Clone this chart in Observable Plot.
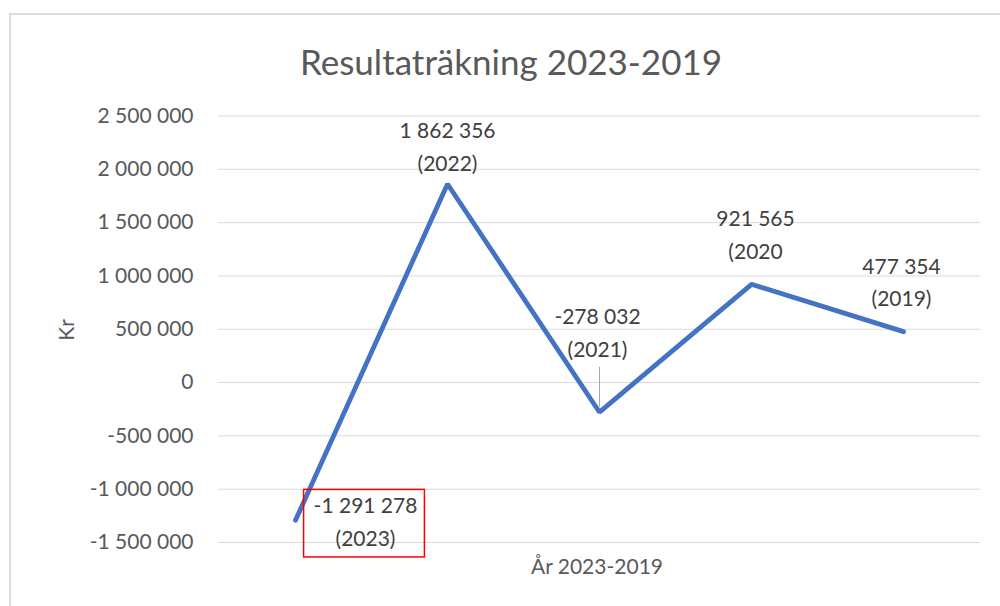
<!DOCTYPE html>
<html>
<head>
<meta charset="utf-8">
<script src="https://cdn.jsdelivr.net/npm/d3@7"></script>
<script src="https://cdn.jsdelivr.net/npm/@observablehq/plot@0.6"></script>
<style>
  html, body { margin: 0; padding: 0; background: #fff; }
  #wrap { position: relative; width: 1000px; height: 606px; overflow: hidden; font-family: Lato, "Open Sans", sans-serif; }
  #frame { position: absolute; left: 9px; top: 13px; right: -10px; bottom: -10px; border-left: 2px solid #dcdcdc; border-top: 2px solid #dcdcdc; }
  .ov { position: absolute; transform: translate(-50%, -50%); white-space: nowrap; line-height: 1; color: #595959; }
  #title { left: 511px; top: 61px; font-size: 35px; }
  #ylab { left: 65px; top: 330px; font-size: 21px; transform: translate(-50%, -50%) rotate(-90deg); }
  #xlab { left: 597px; top: 565px; font-size: 21px; }
  svg { position: absolute; left: 0; top: 0; }
</style>
</head>
<body>
<div id="wrap">
  <div id="frame"></div>
  <div id="title" class="ov">Resultaträkning 2023-2019</div>
  <div id="ylab" class="ov">Kr</div>
  <div id="xlab" class="ov">År 2023-2019</div>
</div>
<script>
// ---- data ----
const years = ["2023", "2022", "2021", "2020", "2019"];
const results = [-1291278, 1862356, -278032, 921565, 477354];
const yearLabels = ["(2023)", "(2022)", "(2021)", "(2020", "(2019)"];
const yTicks = [-1500000, -1000000, -500000, 0, 500000, 1000000, 1500000, 2000000, 2500000];

const data = years.map((year, i) => ({year, value: results[i], label: yearLabels[i]}));

// ---- layout (label placement relative to each point, in pixels) ----
const labelOffsets = {
  "2023": {dx: 70, dy: -1},
  "2022": {dx: 0, dy: -40},
  "2021": {dx: -2, dy: -82},
  "2020": {dx: 4, dy: -52},
  "2019": {dx: -2, dy: -52}
};

const fmt = v => (v < 0 ? "-" : "") + d3.format(",")(Math.abs(v)).replace(/,/g, " ");

const labelMarks = years.map(y => Plot.text(data.filter(d => d.year === y), {
  x: "year", y: "value",
  text: d => fmt(d.value) + "\n" + d.label,
  dx: labelOffsets[y].dx, dy: labelOffsets[y].dy,
  lineHeight: 1.55,
  fontSize: 21,
  fill: "#404040"
}));

const chart = Plot.plot({
  width: 1000,
  height: 606,
  marginLeft: 218,
  marginRight: 20,
  marginTop: 115,
  marginBottom: 64,
  style: {fontFamily: "Lato, 'Open Sans', sans-serif", color: "#595959", background: "transparent", overflow: "visible"},
  x: {type: "point", domain: years, padding: 0.5, axis: null},
  y: {domain: [-1500000, 2500000], range: [542, 115.5], axis: null},
  marks: [
    Plot.gridY(yTicks, {stroke: "#d9d9d9", strokeOpacity: 1, strokeWidth: 1}),
    Plot.axisY(yTicks, {tickSize: 0, tickPadding: 25, tickFormat: fmt, fontSize: 21, fill: "#595959", label: null}),
    Plot.ruleX(data.filter(d => d.year === "2021"), {x: "year", y1: "value", y2: "value", insetTop: -45, insetBottom: 5, stroke: "#a6a6a6", strokeWidth: 1}),
    Plot.line(data, {x: "year", y: "value", stroke: "#4472C4", strokeWidth: 4.8, strokeLinejoin: "miter"}),
    ...labelMarks
  ]
});

document.getElementById("wrap").appendChild(chart);

// red highlight box around the 2023 label (drawn in the label's own coordinate frame)
const t = Array.from(chart.querySelectorAll("text")).find(el => el.textContent.includes("(2023)"));
if (t) {
  const bb = t.getBBox();
  const padL = 10, padR = 7, padT = 3, padB = 7;
  const rect = document.createElementNS("http://www.w3.org/2000/svg", "rect");
  rect.setAttribute("x", bb.x - padL);
  rect.setAttribute("y", bb.y - padT);
  rect.setAttribute("width", bb.width + padL + padR);
  rect.setAttribute("height", bb.height + padT + padB);
  rect.setAttribute("fill", "none");
  rect.setAttribute("stroke", "#ff0000");
  rect.setAttribute("stroke-width", 1.5);
  if (t.getAttribute("transform")) rect.setAttribute("transform", t.getAttribute("transform"));
  t.parentNode.insertBefore(rect, t);
}
</script>
</body>
</html>
